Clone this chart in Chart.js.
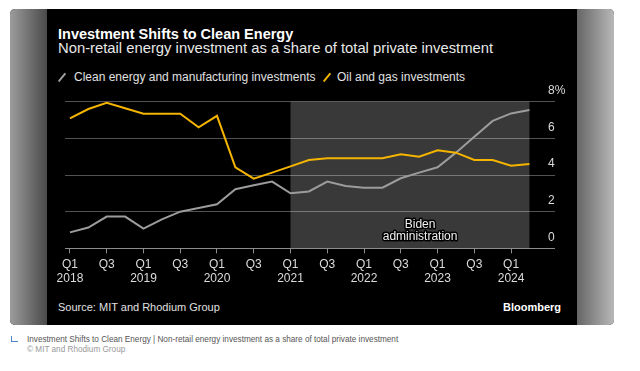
<!DOCTYPE html>
<html lang="en">
<head>
    <meta charset="UTF-8">
    <title>Investment Shifts to Clean Energy</title>
    <script src="https://cdn.jsdelivr.net/npm/chart.js@4.4.1/dist/chart.umd.min.js"></script>
    <style>
        html, body { margin: 0; padding: 0; background: #fff; }
        body { width: 640px; height: 371px; position: relative; overflow: hidden;
               font-family: "Liberation Sans", Arial, Helvetica, sans-serif; }
        .panel { position: absolute; left: 10px; top: 9px; width: 604px; height: 316px;
                 border-radius: 5px; overflow: hidden; background: #000; }
        .side-l { position: absolute; left: 0; top: 0; width: 37px; height: 100%;
                  background: linear-gradient(to right, #9c9c9c, #4a4a4a); }
        .side-r { position: absolute; right: 0; top: 0; width: 37px; height: 100%;
                  background: linear-gradient(to right, #666, #b8b8b8); }
        .txt { position: absolute; white-space: nowrap; }
        .title { left: 58px; top: 26.7px; font-size: 14.5px; line-height: 14.5px; font-weight: bold; color: #fff; }
        .sub { left: 58px; top: 40.8px; font-size: 14.8px; line-height: 14.8px; color: #e8e8e8; }
        .leg { top: 70.5px; font-size: 12px; line-height: 12px; color: #e0e0e0; }
        .slash { position: absolute; top: 71.5px; width: 2.4px; height: 11px; transform: rotate(40deg); border-radius: 1px; }
        .source { left: 58px; top: 302px; font-size: 11px; line-height: 11px; color: #e0e0e0; }
        .bbg { right: 79px; top: 301.7px; font-size: 11px; line-height: 11px; font-weight: bold; color: #fff; }
        .cap1 { left: 27px; top: 335.6px; font-size: 8.2px; line-height: 8.2px; color: #555; }
        .cap2 { left: 27px; top: 346px; font-size: 8.2px; line-height: 8.2px; color: #999; }
        .capicon { position: absolute; left: 11px; top: 336px; width: 6px; height: 5px;
                   border-left: 1.3px solid #4a86c8; border-bottom: 1.3px solid #4a86c8; }
        #chart { position: absolute; left: 0; top: 0; pointer-events: none; }
    </style>
</head>
<body>
<div class="panel">
    <div class="side-l"></div>
    <div class="side-r"></div>
</div>
<div class="txt title">Investment Shifts to Clean Energy</div>
<div class="txt sub">Non-retail energy investment as a share of total private investment</div>
<span class="slash" style="left:61px; background:#a0a0a0;"></span>
<div class="txt leg" style="left:74px;">Clean energy and manufacturing investments</div>
<span class="slash" style="left:325.5px; background:#f4b400;"></span>
<div class="txt leg" style="left:337px;">Oil and gas investments</div>
<div class="txt source">Source: MIT and Rhodium Group</div>
<div class="txt bbg">Bloomberg</div>
<div class="capicon"></div>
<div class="txt cap1">Investment Shifts to Clean Energy | Non-retail energy investment as a share of total private investment</div>
<div class="txt cap2">© MIT and Rhodium Group</div>

<canvas id="chart" width="640" height="371"></canvas>

<script>
    // quarters Q1 2018 .. Q2 2024
    var quarters = ['Q1 2018', 'Q2 2018', 'Q3 2018', 'Q4 2018',
        'Q1 2019', 'Q2 2019', 'Q3 2019', 'Q4 2019',
        'Q1 2020', 'Q2 2020', 'Q3 2020', 'Q4 2020',
        'Q1 2021', 'Q2 2021', 'Q3 2021', 'Q4 2021',
        'Q1 2022', 'Q2 2022', 'Q3 2022', 'Q4 2022',
        'Q1 2023', 'Q2 2023', 'Q3 2023', 'Q4 2023',
        'Q1 2024', 'Q2 2024'];

    var cleanEnergy = [0.87, 1.13, 1.73, 1.73, 1.07, 1.58, 2.0, 2.2, 2.4, 3.22, 3.44, 3.64,
        3.0, 3.1, 3.64, 3.4, 3.31, 3.31, 3.82, 4.13, 4.42, 5.22, 6.09, 6.95, 7.36, 7.55];

    var oilGas = [7.09, 7.6, 7.94, 7.64, 7.34, 7.34, 7.34, 6.6, 7.23, 4.42, 3.8, 4.13,
        4.47, 4.82, 4.91, 4.91, 4.91, 4.91, 5.13, 5.0, 5.35, 5.22, 4.82, 4.82, 4.51, 4.6];

    // tick labels every second quarter
    var xTickLabels = [['Q1', '2018'], 'Q3', ['Q1', '2019'], 'Q3', ['Q1', '2020'], 'Q3',
        ['Q1', '2021'], 'Q3', ['Q1', '2022'], 'Q3', ['Q1', '2023'], 'Q3', ['Q1', '2024']];
    var yTicks = [0, 2, 4, 6, 8];

    var bidenStart = quarters.indexOf('Q1 2021');
    var bidenEnd = quarters.indexOf('Q2 2024');
    var bidenLabel = ['Biden', 'administration'];

    function toPoints(arr) {
        return arr.map(function (v, i) { return {x: i, y: v}; });
    }

    var shadePlugin = {
        id: 'biden',
        beforeDraw: function (chart) {
            var c = chart.ctx, xs = chart.scales.x, a = chart.chartArea;
            var x0 = xs.getPixelForValue(bidenStart), x1 = xs.getPixelForValue(bidenEnd);
            c.save();
            c.fillStyle = '#393939';
            c.fillRect(x0, a.top, x1 - x0, a.bottom - a.top);
            c.restore();
        },
        afterDatasetsDraw: function (chart) {
            var c = chart.ctx, xs = chart.scales.x, a = chart.chartArea;
            var cx = xs.getPixelForValue(19.05);
            c.save();
            c.font = '12px "Liberation Sans", Arial, sans-serif';
            c.textAlign = 'center';
            c.textBaseline = 'alphabetic';
            c.lineJoin = 'round';
            c.lineWidth = 3;
            c.strokeStyle = '#000';
            c.fillStyle = '#f0f0f0';
            bidenLabel.forEach(function (t, i) {
                var y = a.bottom - 20 + i * 12;
                c.strokeText(t, cx, y);
                c.fillText(t, cx, y);
            });
            c.restore();
        }
    };

    var ctx = document.getElementById('chart').getContext('2d');
    var chart = new Chart(ctx, {
        type: 'line',
        data: {
            datasets: [{
                label: 'Oil and gas investments',
                data: toPoints(oilGas),
                borderColor: '#f4b400',
                borderWidth: 2,
                pointRadius: 0,
                tension: 0
            }, {
                label: 'Clean energy and manufacturing investments',
                data: toPoints(cleanEnergy),
                borderColor: '#9c9c9c',
                borderWidth: 2,
                pointRadius: 0,
                tension: 0
            }]
        },
        options: {
            responsive: false,
            animation: false,
            layout: {padding: {left: 65, right: 52, top: 101.7, bottom: 77.7}},
            plugins: {legend: {display: false}, tooltip: {enabled: false}},
            scales: {
                x: {
                    type: 'linear',
                    min: -0.27,
                    max: 26.01,
                    afterBuildTicks: function (scale) {
                        scale.ticks = xTickLabels.map(function (l, i) { return {value: i * 2}; });
                    },
                    afterFit: function (scale) { scale.height = 45; },
                    ticks: {
                        autoSkip: false,
                        maxRotation: 0,
                        padding: 4,
                        color: '#dcdcdc',
                        font: {family: '"Liberation Sans", Arial, sans-serif', size: 12},
                        callback: function (v) { return xTickLabels[v / 2]; }
                    },
                    grid: {drawOnChartArea: false, drawTicks: true, tickLength: 5, color: '#8c8c8c'},
                    border: {display: false}
                },
                y: {
                    position: 'right',
                    min: 0,
                    max: 8,
                    afterBuildTicks: function (scale) {
                        scale.ticks = yTicks.map(function (v) { return {value: v}; });
                    },
                    afterFit: function (scale) { scale.width = 40; },
                    ticks: {
                        padding: -7,
                        labelOffset: -11,
                        color: '#dcdcdc',
                        font: {family: '"Liberation Sans", Arial, sans-serif', size: 12},
                        callback: function (v) { return v === 8 ? '8%' : String(v); }
                    },
                    grid: {
                        drawTicks: true,
                        tickLength: 7,
                        color: function (c) { return c.tick && c.tick.value === 0 ? '#8c8c8c' : 'rgba(255,255,255,0.32)'; }
                    },
                    border: {display: false}
                }
            }
        },
        plugins: [shadePlugin]
    });
</script>
</body>
</html>
